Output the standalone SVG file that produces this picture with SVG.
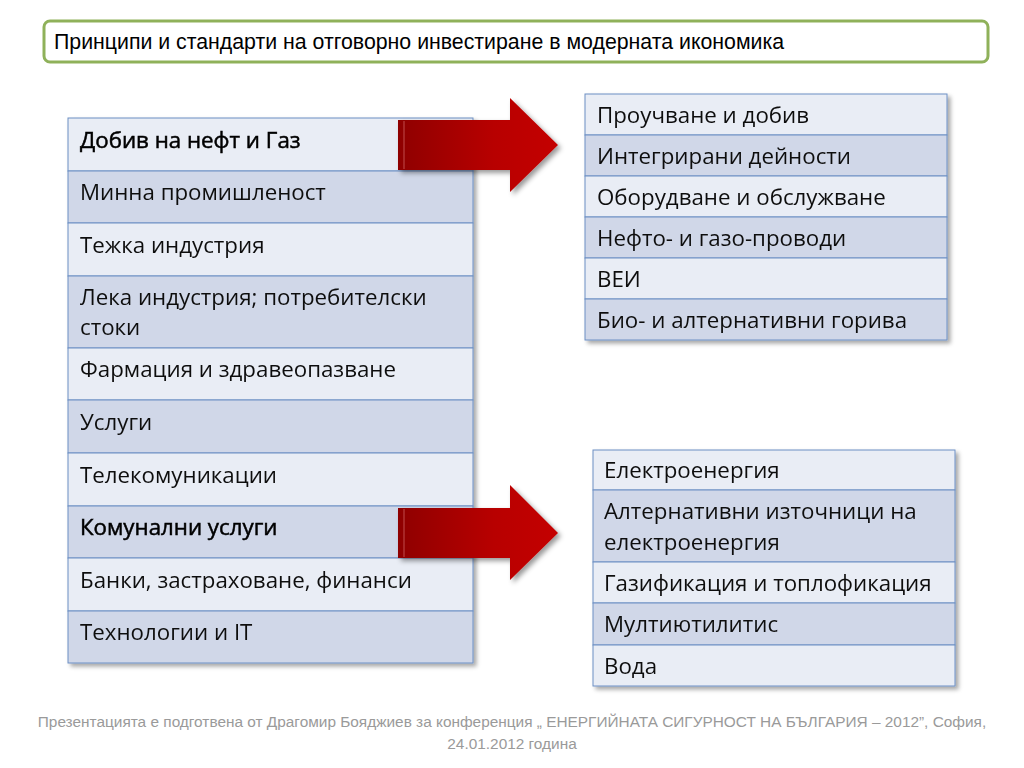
<svg xmlns="http://www.w3.org/2000/svg" width="1024" height="768" viewBox="0 0 1024 768">
<defs>
<style>
.t{font-family:"Open Sans","Liberation Sans",Arial,sans-serif;font-size:22.3px;fill:#111}
.b{fill:#000;stroke:#000;stroke-width:0.5}
.title{font-family:"Liberation Sans",Arial,sans-serif;font-size:21.3px;fill:#000}
.foot{font-family:"Liberation Sans",Arial,sans-serif;font-size:15.4px;fill:#9a9a9a}
.l{fill:#e9edf5;stroke:#6d8fc4;stroke-width:1}
.d{fill:#d0d7e8;stroke:#6d8fc4;stroke-width:1}
.arrow{fill:url(#ag);filter:url(#ash)}
</style>
<filter id="sh" x="-5%" y="-5%" width="115%" height="115%">
<feDropShadow dx="3" dy="3" stdDeviation="2" flood-color="#000" flood-opacity="0.35"/>
</filter>
<filter id="ash" x="-10%" y="-10%" width="130%" height="130%">
<feDropShadow dx="3" dy="3" stdDeviation="2.5" flood-color="#000" flood-opacity="0.4"/>
</filter>
<linearGradient id="ag" x1="0" y1="0" x2="1" y2="0">
<stop offset="0" stop-color="#8e0000"/>
<stop offset="0.6" stop-color="#b80000"/>
<stop offset="1" stop-color="#c40000"/>
</linearGradient>
</defs>
<rect width="1024" height="768" fill="#fff"/>

<g id="title">
<rect x="44" y="21" width="944" height="41" rx="6" fill="#fff" stroke="#8fb15a" stroke-width="3"/>
<text class="title" x="54" y="49">Принципи и стандарти на отговорно инвестиране в модерната икономика</text>
</g>

<g id="left-table" filter="url(#sh)">
<g id="l1"><rect class="l" x="68" y="118" width="405" height="53"/><text class="t b" x="80" y="148">Добив на нефт и Газ</text></g>
<g id="l2"><rect class="d" x="68" y="171" width="405" height="52"/><text class="t" x="80" y="200">Минна промишленост</text></g>
<g id="l3"><rect class="l" x="68" y="223" width="405" height="53"/><text class="t" x="80" y="253">Тежка индустрия</text></g>
<g id="l4"><rect class="d" x="68" y="276" width="405" height="72"/><text class="t" x="80" y="305">Лека индустрия; потребителски</text><text class="t" x="80" y="335">стоки</text></g>
<g id="l5"><rect class="l" x="68" y="348" width="405" height="52"/><text class="t" x="80" y="377">Фармация и здравеопазване</text></g>
<g id="l6"><rect class="d" x="68" y="400" width="405" height="53"/><text class="t" x="80" y="430">Услуги</text></g>
<g id="l7"><rect class="l" x="68" y="453" width="405" height="53"/><text class="t" x="80" y="483">Телекомуникации</text></g>
<g id="l8"><rect class="d" x="68" y="506" width="405" height="52"/><text class="t b" x="80" y="535">Комунални услуги</text></g>
<g id="l9"><rect class="l" x="68" y="558" width="405" height="53"/><text class="t" x="80" y="588">Банки, застраховане, финанси</text></g>
<g id="l10"><rect class="d" x="68" y="611" width="405" height="52"/><text class="t" x="80" y="640">Технологии и IT</text></g>
</g>

<g id="right-top" filter="url(#sh)">
<g id="r1"><rect class="l" x="585" y="94" width="362" height="41"/><text class="t" x="597" y="123">Проучване и добив</text></g>
<g id="r2"><rect class="d" x="585" y="135" width="362" height="41"/><text class="t" x="597" y="164">Интегрирани дейности</text></g>
<g id="r3"><rect class="l" x="585" y="176" width="362" height="41"/><text class="t" x="597" y="205">Оборудване и обслужване</text></g>
<g id="r4"><rect class="d" x="585" y="217" width="362" height="41"/><text class="t" x="597" y="246">Нефто- и газо-проводи</text></g>
<g id="r5"><rect class="l" x="585" y="258" width="362" height="41"/><text class="t" x="597" y="287">ВЕИ</text></g>
<g id="r6"><rect class="d" x="585" y="299" width="362" height="41"/><text class="t" x="597" y="328">Био- и алтернативни горива</text></g>
</g>

<g id="right-bottom" filter="url(#sh)">
<g id="b1"><rect class="l" x="593" y="450" width="362" height="40"/><text class="t" x="604" y="478">Електроенергия</text></g>
<g id="b2"><rect class="d" x="593" y="490" width="362" height="72"/><text class="t" x="604" y="519">Алтернативни източници на</text><text class="t" x="604" y="550">електроенергия</text></g>
<g id="b3"><rect class="l" x="593" y="562" width="362" height="41"/><text class="t" x="604" y="591">Газификация и топлофикация</text></g>
<g id="b4"><rect class="d" x="593" y="603" width="362" height="42"/><text class="t" x="604" y="632">Мултиютилитис</text></g>
<g id="b5"><rect class="l" x="593" y="645" width="362" height="41"/><text class="t" x="604" y="674">Вода</text></g>
</g>

<g id="connectors">
<polygon class="arrow" points="398,120 510,120 510,98 558,145 510,192 510,170 398,170"/>
<line x1="404" y1="121" x2="404" y2="169" stroke="#e08080" stroke-width="1" opacity="0.6"/>
<polygon class="arrow" points="398,508 510,508 510,485 558,533 510,580 510,558 398,558"/>
<line x1="404" y1="509" x2="404" y2="557" stroke="#e08080" stroke-width="1" opacity="0.6"/>
</g>

<g id="footer">
<text class="foot" x="512" y="727" text-anchor="middle">Презентацията е подготвена от Драгомир Бояджиев за конференция „ ЕНЕРГИЙНАТА СИГУРНОСТ НА БЪЛГАРИЯ – 2012”, София,</text>
<text class="foot" x="512" y="749" text-anchor="middle">24.01.2012 година</text>
</g>
</svg>
